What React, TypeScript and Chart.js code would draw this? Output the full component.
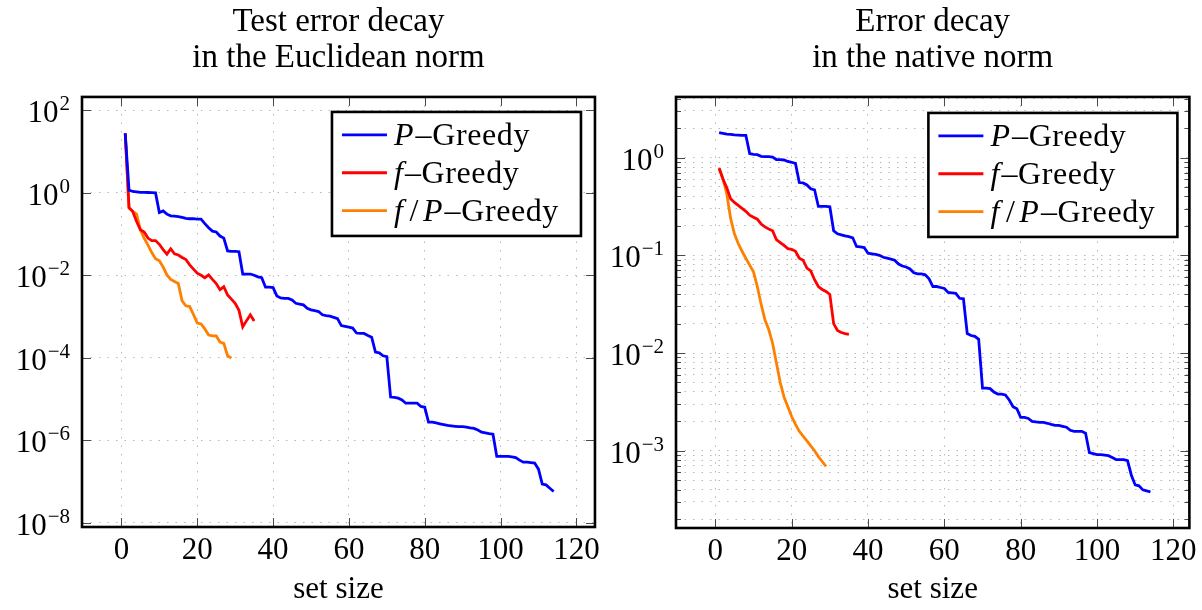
import React, { useEffect, useRef } from "react";
import { Chart, registerables } from "chart.js";

Chart.register(...registerables);

const SERIF = "'Liberation Serif', 'Times New Roman', serif";

// Test error in the Euclidean norm, one value per set size (1, 2, 3, ...)
const pGreedyEuclid = [
  2.75e1, 1.15, 1.07, 1.05, 1.02, 1.02, 1.01, 1.0, 0.99, 3.31e-1,
  3.63e-1, 3.02e-1, 2.75e-1, 2.69e-1, 2.63e-1, 2.51e-1, 2.4e-1, 2.34e-1, 2.34e-1, 2.29e-1,
  2.29e-1, 1.78e-1, 1.41e-1, 1.17e-1, 1.12e-1, 8.91e-2, 7.94e-2, 3.89e-2, 3.8e-2, 3.8e-2,
  3.72e-2, 1.07e-2, 1.07e-2, 1.07e-2, 1.0e-2, 9.12e-3, 8.71e-3, 5.13e-3, 5.13e-3, 5.01e-3,
  3.16e-3, 2.82e-3, 2.75e-3, 2.75e-3, 2.51e-3, 2.09e-3, 2.0e-3, 1.91e-3, 1.58e-3, 1.45e-3,
  1.38e-3, 1.32e-3, 1.1e-3, 1.05e-3, 1.02e-3, 9.55e-4, 8.91e-4, 6.03e-4, 5.75e-4, 5.5e-4,
  5.25e-4, 3.98e-4, 3.89e-4, 3.89e-4, 3.47e-4, 3.16e-4, 1.38e-4, 1.32e-4, 1.12e-4, 1.07e-4,
  1.12e-5, 1.1e-5, 1.05e-5, 9.55e-6, 7.94e-6, 7.94e-6, 7.94e-6, 7.94e-6, 6.61e-6, 6.31e-6,
  2.75e-6, 2.75e-6, 2.63e-6, 2.51e-6, 2.4e-6, 2.29e-6, 2.24e-6, 2.19e-6, 2.14e-6, 2.14e-6,
  2.09e-6, 2.0e-6, 1.95e-6, 1.78e-6, 1.58e-6, 1.51e-6, 1.45e-6, 1.41e-6, 4.07e-7, 4.07e-7,
  4.07e-7, 4.07e-7, 3.98e-7, 3.8e-7, 3.31e-7, 2.95e-7, 2.95e-7, 2.88e-7, 2.82e-7, 2.0e-7,
  8.71e-8, 8.32e-8, 6.92e-8, 5.75e-8,
];
const fGreedyEuclid = [
  2.75e1, 4.37e-1, 3.47e-1, 2.0e-1, 1.26e-1, 1.12e-1, 7.94e-2, 6.92e-2, 6.92e-2, 5.62e-2,
  4.17e-2, 3.24e-2, 4.37e-2, 3.31e-2, 3.09e-2, 2.69e-2, 2.4e-2, 1.78e-2, 1.41e-2, 1.12e-2,
  1.0e-2, 8.71e-3, 1.02e-2, 7.94e-3, 6.31e-3, 4.47e-3, 5.25e-3, 3.31e-3, 2.63e-3, 2.09e-3,
  1.41e-3, 5.62e-4, 7.94e-4, 1.1e-3, 7.76e-4,
];
const fpGreedyEuclid = [
  2.75e1, 4.17e-1, 3.55e-1, 3.02e-1, 1.26e-1, 7.94e-2, 5.37e-2, 3.55e-2, 2.51e-2, 2.24e-2,
  1.58e-2, 1.02e-2, 7.94e-3, 7.08e-3, 6.31e-3, 2.4e-3, 1.82e-3, 1.74e-3, 1.12e-3, 6.92e-4,
  6.61e-4, 5.01e-4, 3.55e-4, 3.39e-4, 3.39e-4, 2.4e-4, 2.24e-4, 1.12e-4, 9.77e-5,
];

// Error in the native norm, one value per set size (1, 2, 3, ...)
const pGreedyNative = [
  1.8, 1.77, 1.74, 1.73, 1.71, 1.7, 1.69, 1.69, 1.1, 1.08,
  1.07, 1.03, 1.02, 1.02, 1.01, 0.955, 0.951, 0.944, 0.912, 0.895,
  0.871, 0.555, 0.55, 0.525, 0.479, 0.468, 0.316, 0.316, 0.316, 0.313,
  0.178, 0.166, 0.162, 0.158, 0.155, 0.151, 0.123, 0.122, 0.12, 0.105,
  0.1035, 0.102, 0.1, 0.0955, 0.0933, 0.0912, 0.0891, 0.0813, 0.0776, 0.0759,
  0.0724, 0.0661, 0.0646, 0.0646, 0.0631, 0.0575, 0.0479, 0.0479, 0.0468, 0.0457,
  0.0417, 0.0412, 0.0407, 0.0363, 0.0359, 0.0158, 0.0151, 0.0148, 0.0138, 0.00437,
  0.00437, 0.00432, 0.00398, 0.0038, 0.0038, 0.00372, 0.00331, 0.00282, 0.00269, 0.00219,
  0.00219, 0.00214, 0.002, 0.00197, 0.00195, 0.00195, 0.00191, 0.00186, 0.00182, 0.00182,
  0.00178, 0.00174, 0.00162, 0.00158, 0.00158, 0.00158, 0.00151, 9.55e-4, 9.33e-4, 9.12e-4,
  9.12e-4, 9.02e-4, 8.91e-4, 8.51e-4, 8.13e-4, 8.13e-4, 8.13e-4, 7.94e-4, 5.62e-4, 4.47e-4,
  4.37e-4, 3.98e-4, 3.89e-4, 3.8e-4,
];
const fGreedyNative = [
  0.776, 0.603, 0.49, 0.38, 0.347, 0.324, 0.302, 0.282, 0.257, 0.245,
  0.234, 0.209, 0.195, 0.186, 0.178, 0.145, 0.135, 0.126, 0.117, 0.115,
  0.11, 0.0933, 0.0891, 0.0741, 0.0692, 0.0562, 0.0479, 0.0447, 0.0427, 0.0398,
  0.02, 0.017, 0.0162, 0.0158, 0.0155,
];
const fpGreedyNative = [
  0.776, 0.603, 0.427, 0.24, 0.166, 0.132, 0.11, 0.0933, 0.0794, 0.0676,
  0.0479, 0.0316, 0.0219, 0.0174, 0.0126, 0.00794, 0.00501, 0.00355, 0.00282, 0.00224,
  0.00186, 0.00158, 0.00141, 0.00126, 0.00112, 0.001, 8.71e-4, 7.76e-4, 6.92e-4,
];

const seriesNames = ["P–Greedy", "f–Greedy", "f/P–Greedy"];
const seriesColors = ["#0000ff", "#ff0000", "#ff8000"];

// Axis ticks
const setSizeTicks = [0, 20, 40, 60, 80, 100, 120];
const euclidMajorTicks = [1e2, 1e0, 1e-2, 1e-4, 1e-6, 1e-8];
const nativeMajorTicks = [1e0, 1e-1, 1e-2, 1e-3];
const nativeMinorTicks = [
  4, 3, 2,
  0.9, 0.8, 0.7, 0.6, 0.5, 0.4, 0.3, 0.2,
  0.09, 0.08, 0.07, 0.06, 0.05, 0.04, 0.03, 0.02,
  0.009, 0.008, 0.007, 0.006, 0.005, 0.004, 0.003, 0.002,
  0.0009, 0.0008, 0.0007, 0.0006, 0.0005, 0.0004, 0.0003, 0.0002,
];

type Panel = {
  left: number;
  width: number;
  title: string[];
  series: number[][];
  xMin: number;
  xMax: number;
  yMin: number;
  yMax: number;
  yMajor: number[];
  yMinor: number[];
  axisWidth: number;
  axisHeight: number;
  padRight: number;
  legendRight: number;
  legendTop: number;
};

const panels: Panel[] = [
  {
    left: 0,
    width: 605,
    title: ["Test error decay", "in the Euclidean norm"],
    series: [pGreedyEuclid, fGreedyEuclid, fpGreedyEuclid],
    xMin: -10.4,
    xMax: 124.9,
    yMin: 7.94e-9,
    yMax: 209,
    yMajor: euclidMajorTicks,
    yMinor: [],
    axisWidth: 82,
    axisHeight: 83,
    padRight: 6,
    legendRight: 14,
    legendTop: 15,
  },
  {
    left: 605,
    width: 597,
    title: ["Error decay", "in the native norm"],
    series: [pGreedyNative, fGreedyNative, fpGreedyNative],
    xMin: -10.3,
    xMax: 124.2,
    yMin: 1.62e-4,
    yMax: 4.17,
    yMajor: nativeMajorTicks,
    yMinor: nativeMinorTicks,
    axisWidth: 71,
    axisHeight: 82,
    padRight: 12,
    legendRight: 12,
    legendTop: 16,
  },
];

const strokeLine = (ctx: CanvasRenderingContext2D, x1: number, y1: number, x2: number, y2: number) => {
  ctx.beginPath();
  ctx.moveTo(x1, y1);
  ctx.lineTo(x2, y2);
  ctx.stroke();
};

// Legend entry: math part (letters italic, slash upright), then the upright "–Greedy"
const drawEntryLabel = (ctx: CanvasRenderingContext2D, label: string, x0: number, y: number) => {
  const [math, rest] = label.split("–");
  let x = x0;
  ctx.fillStyle = "#000";
  ctx.textAlign = "left";
  ctx.textBaseline = "alphabetic";
  (ctx as any).letterSpacing = "0.6px";
  const chars = Array.from(math);
  chars.forEach((ch, k) => {
    const italic = /[A-Za-z]/.test(ch);
    ctx.font = `${italic ? "italic " : ""}32px ${SERIF}`;
    ctx.fillText(ch, x, y);
    const gap = k < chars.length - 1 ? (ch === "f" ? 6 : 4) : italic ? 1.5 : 0.5;
    x += ctx.measureText(ch).width + gap;
  });
  ctx.font = `32px ${SERIF}`;
  ctx.fillText("–" + rest, x, y);
  (ctx as any).letterSpacing = "0px";
};

const decorPlugin = {
  id: "decor",
  afterDraw(chart: any, _args: any, opts: any) {
    const { ctx, chartArea: a, scales } = chart;
    const xs = scales.x;
    const ys = scales.y;
    ctx.save();

    // inward tick marks on all four sides
    ctx.strokeStyle = "#4a4a4a";
    ctx.lineWidth = 1;
    for (const v of setSizeTicks) {
      const px = Math.round(xs.getPixelForValue(v)) + 0.5;
      strokeLine(ctx, px, a.bottom, px, a.bottom - 9);
      strokeLine(ctx, px, a.top, px, a.top + 9);
    }
    for (const v of opts.yMajor) {
      const py = Math.round(ys.getPixelForValue(v)) + 0.5;
      strokeLine(ctx, a.left, py, a.left + 9, py);
      strokeLine(ctx, a.right, py, a.right - 9, py);
    }
    for (const v of opts.yMinor) {
      const py = Math.round(ys.getPixelForValue(v)) + 0.5;
      strokeLine(ctx, a.left, py, a.left + 5, py);
      strokeLine(ctx, a.right, py, a.right - 5, py);
    }

    // axis frame
    ctx.strokeStyle = "#000";
    ctx.lineWidth = 2.6;
    ctx.strokeRect(a.left, a.top, a.right - a.left, a.bottom - a.top);

    // y tick labels as powers of ten
    ctx.fillStyle = "#000";
    ctx.textAlign = "left";
    ctx.textBaseline = "alphabetic";
    for (const v of opts.yMajor) {
      const py = ys.getPixelForValue(v);
      const e = Math.round(Math.log10(v));
      const sup = e < 0 ? "−" + String(-e) : String(e);
      ctx.font = `21px ${SERIF}`;
      const sw = ctx.measureText(sup).width;
      ctx.font = `31px ${SERIF}`;
      const bw = ctx.measureText("10").width;
      const right = a.left - 12;
      ctx.fillText("10", right - sw - bw - 1, py + 12);
      ctx.font = `21px ${SERIF}`;
      ctx.fillText(sup, right - sw, py + 0);
    }

    // legend box in the upper right corner
    const w = 249;
    const h = 124;
    const bx = a.right - opts.legendRight - w;
    const by = a.top + opts.legendTop;
    ctx.fillStyle = "#fff";
    ctx.fillRect(bx, by, w, h);
    ctx.strokeStyle = "#000";
    ctx.lineWidth = 2.6;
    ctx.strokeRect(bx, by, w, h);
    chart.data.datasets.forEach((ds: any, i: number) => {
      const cy = by + 23 + i * 37.8;
      ctx.strokeStyle = ds.borderColor;
      ctx.lineWidth = 2.8;
      strokeLine(ctx, bx + 10, cy, bx + 55, cy);
      drawEntryLabel(ctx, ds.label, bx + 62, cy + 10);
    });

    ctx.restore();
  },
};

const gridStyle = {
  color: "#b8b8b8",
  lineWidth: 1,
  drawTicks: false,
};
const gridBorder = { display: false, dash: [1.5, 7] };

function ErrorPanel({ panel }: { panel: Panel }) {
  const ref = useRef<HTMLCanvasElement>(null);

  useEffect(() => {
    const datasets = panel.series.map((values, i) => ({
      label: seriesNames[i],
      data: values.map((y, k) => ({ x: k + 1, y })),
      borderColor: seriesColors[i],
      backgroundColor: seriesColors[i],
      borderWidth: 2.8,
      pointRadius: 0,
      pointHoverRadius: 0,
      tension: 0,
      fill: false,
    }));

    const chart = new Chart(ref.current as HTMLCanvasElement, {
      type: "line",
      data: { datasets },
      plugins: [decorPlugin],
      options: {
        animation: false,
        responsive: false,
        events: [],
        layout: { padding: { left: 0, right: panel.padRight, top: 0, bottom: 0 } },
        scales: {
          x: {
            type: "linear",
            bounds: "data",
            min: panel.xMin,
            max: panel.xMax,
            afterBuildTicks: (scale: any) => {
              scale.ticks = setSizeTicks.map((value) => ({ value }));
            },
            afterFit: (scale: any) => {
              scale.height = panel.axisHeight;
            },
            grid: gridStyle,
            border: gridBorder,
            ticks: {
              color: "#000",
              font: { family: SERIF, size: 31 },
              padding: 5,
              maxRotation: 0,
              autoSkip: false,
            },
            title: {
              display: true,
              text: "set size",
              color: "#000",
              font: { family: SERIF, size: 31 },
              padding: { top: 0, bottom: 2 },
            },
          },
          y: {
            type: "logarithmic",
            bounds: "data",
            min: panel.yMin,
            max: panel.yMax,
            afterBuildTicks: (scale: any) => {
              scale.ticks = [...panel.yMajor, ...panel.yMinor]
                .sort((p, q) => p - q)
                .map((value) => ({ value }));
            },
            afterFit: (scale: any) => {
              scale.width = panel.axisWidth;
            },
            grid: gridStyle,
            border: gridBorder,
            ticks: { display: false },
          },
        },
        plugins: {
          legend: { display: false },
          tooltip: { enabled: false },
          title: {
            display: true,
            fullSize: false,
            text: panel.title,
            color: "#000",
            font: { family: SERIF, size: 33, weight: "normal", lineHeight: 1.09 },
            padding: { top: 4, bottom: 21 },
          },
          decor: {
            yMajor: panel.yMajor,
            yMinor: panel.yMinor,
            legendRight: panel.legendRight,
            legendTop: panel.legendTop,
          },
        } as any,
      },
    } as any);

    return () => chart.destroy();
  }, [panel]);

  return (
    <canvas
      ref={ref}
      width={panel.width}
      height={610}
      style={{ position: "absolute", left: panel.left, top: 0, width: panel.width, height: 610 }}
    />
  );
}

export default function App() {
  return (
    <div style={{ position: "absolute", left: 0, top: 0, width: 1202, height: 610, background: "#fff" }}>
      {panels.map((p, i) => (
        <ErrorPanel key={i} panel={p} />
      ))}
    </div>
  );
}
